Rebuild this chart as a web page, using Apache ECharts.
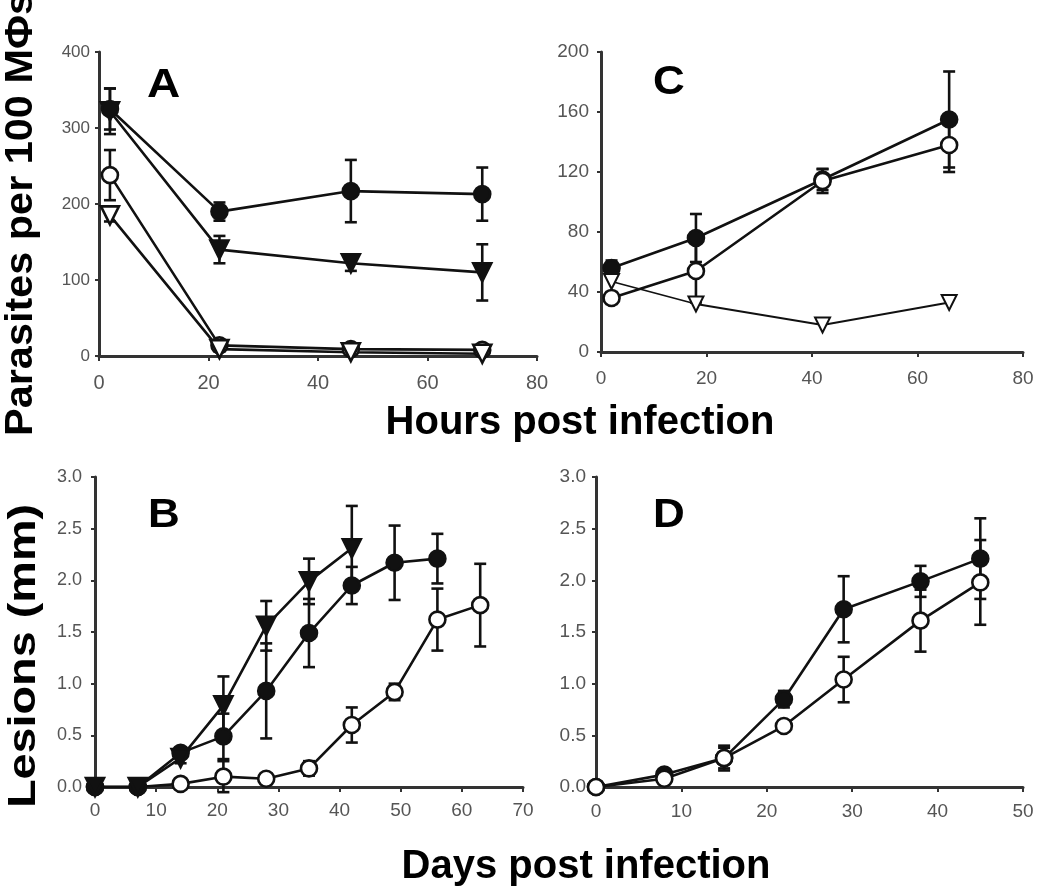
<!DOCTYPE html>
<html>
<head>
<meta charset="utf-8">
<script src="https://cdn.jsdelivr.net/npm/echarts@6/dist/echarts.min.js"></script>
<style>
html,body{margin:0;padding:0;background:#fff;}
#chart{width:1050px;height:896px;}
</style>
</head>
<body>
<div id="chart"></div>
<script>
// ---------- Data ----------
// Panel A: Hours post infection
const hoursA = [2, 22, 46, 70];
const aFilledCircle = [325, 190, 217, 213];
const aFilledCircleErr = [27, 12, 41, 35];
const aFilledTri = [322, 140, 122, 110];
const aFilledTriErr = [30, 18, 10, 37];
const aOpenCircle = [238, 14, 9, 8];
const aOpenCircleErr = [33, 4, 4, 4];
const aOpenTri = [185, 9, 5, 3];
const aOpenTriErr = [8, 3, 2, 2];

// Panel C: Hours post infection
const hoursC = [2, 18, 42, 66];
const cFilledCircle = [56, 76, 115, 155];
const cFilledCircleErr = [5, 16, 7, 32];
const cOpenCircle = [36, 54, 114, 138];
const cOpenCircleErr = [4, 21, 8, 18];
const cOpenTri = [47, 32, 18, 33];

// Panel B: Days post infection
const daysB = [0, 7, 14, 21, 28, 35, 42, 49, 56, 63];
const bFilledCircle = [0, 0, 0.33, 0.49, 0.93, 1.49, 1.95, 2.17, 2.21];
const bFilledCircleErr = [0, 0, 0.05, 0.22, 0.46, 0.33, 0.18, 0.36, 0.24];
const bFilledTri = [0, 0, 0.28, 0.79, 1.56, 1.99, 2.31];
const bFilledTriErr = [0, 0, 0.05, 0.28, 0.24, 0.22, 0.41];
const bOpenCircle = [0, 0, 0.03, 0.1, 0.08, 0.18, 0.6, 0.92, 1.62, 1.76];
const bOpenCircleErr = [0, 0, 0.03, 0.15, 0.03, 0.07, 0.17, 0.08, 0.3, 0.4];

// Panel D: Days post infection
const daysD = [0, 8, 15, 22, 29, 38, 45];
const dFilledCircle = [0, 0.12, 0.28, 0.85, 1.72, 1.99, 2.21];
const dFilledCircleErr = [0, 0.03, 0.12, 0.08, 0.32, 0.15, 0.39];
const dOpenCircle = [0, 0.08, 0.28, 0.59, 1.04, 1.61, 1.98];
const dOpenCircleErr = [0, 0.03, 0.1, 0.05, 0.22, 0.3, 0.41];

// Axis ranges / ticks
const axA = {xMin: 0, xMax: 80, xStep: 20, yMin: 0, yMax: 400, yStep: 100};
const axC = {xMin: 0, xMax: 80, xStep: 20, yMin: 0, yMax: 200, yStep: 40};
const axB = {xMin: 0, xMax: 70, xStep: 10, yMin: 0, yMax: 3, yStep: 0.5};
const axD = {xMin: 0, xMax: 50, xStep: 10, yMin: 0, yMax: 3, yStep: 0.5};

const titleHours = 'Hours post infection';
const titleDays = 'Days post infection';
const titleParasites = 'Parasites per 100 MΦs';
const titleLesions = 'Lesions (mm)';
const panelLetters = ['A', 'C', 'B', 'D'];

// ---------- Chart ----------
const FONT = '"Liberation Sans", Arial, Helvetica, sans-serif';
const AXC = '#333';
const LBL = '#555';

const chart = echarts.init(document.getElementById('chart'), null, {renderer: 'canvas'});

function pairs(xs, ys) { return ys.map((y, i) => [xs[i], y]); }

function xAxisCfg(idx, ax, margin, fs) {
  return {
    type: 'value', gridIndex: idx, min: ax.xMin, max: ax.xMax, interval: ax.xStep,
    axisLine: {show: true, onZero: false, lineStyle: {color: AXC, width: 3}},
    axisTick: {show: true, inside: false, length: 5, lineStyle: {color: AXC, width: 2}},
    splitLine: {show: false},
    axisLabel: {color: LBL, fontFamily: FONT, fontSize: fs, margin: margin}
  };
}
function yAxisCfg(idx, ax, margin, fs, fmt) {
  return {
    type: 'value', gridIndex: idx, min: ax.yMin, max: ax.yMax, interval: ax.yStep,
    axisLine: {show: true, onZero: false, lineStyle: {color: AXC, width: 3}},
    axisTick: {show: true, inside: false, length: 4, lineStyle: {color: AXC, width: 2}},
    splitLine: {show: false},
    axisLabel: {color: LBL, fontFamily: FONT, fontSize: fs, margin: margin, formatter: fmt}
  };
}

function lineSeries(idx, xs, ys, kind, opts) {
  opts = opts || {};
  const filled = kind.indexOf('filled') === 0;
  const tri = kind.indexOf('Tri') > 0;
  return {
    type: 'line', xAxisIndex: idx, yAxisIndex: idx,
    data: pairs(xs, ys),
    symbol: tri ? 'triangle' : 'circle',
    symbolRotate: tri ? 180 : 0,
    symbolSize: opts.size || (tri ? 18 : 16),
    showAllSymbol: true,
    lineStyle: {color: '#111', width: opts.lw || 2.6},
    itemStyle: {color: filled ? '#111' : '#fff', borderColor: '#111', borderWidth: opts.bw || 2.6},
    z: opts.z || 3,
    animation: false, silent: true
  };
}

function errSeries(idx, xs, ys, es) {
  return {
    type: 'custom', xAxisIndex: idx, yAxisIndex: idx,
    data: ys.map((y, i) => [xs[i], y, es[i]]),
    encode: {x: 0, y: 1},
    renderItem: function (params, api) {
      const x = api.value(0), y = api.value(1), e = api.value(2);
      if (!e) return null;
      const t = api.coord([x, y + e]);
      const b = api.coord([x, y - e]);
      const w = 6;
      const st = {stroke: '#111', lineWidth: 2.6};
      return {
        type: 'group',
        children: [
          {type: 'line', shape: {x1: t[0], y1: t[1], x2: b[0], y2: b[1]}, style: st},
          {type: 'line', shape: {x1: t[0] - w, y1: t[1], x2: t[0] + w, y2: t[1]}, style: st},
          {type: 'line', shape: {x1: b[0] - w, y1: b[1], x2: b[0] + w, y2: b[1]}, style: st}
        ]
      };
    },
    z: 2, animation: false, silent: true
  };
}

const fmt1 = v => v.toFixed(1);

const option = {
  backgroundColor: '#fff',
  animation: false,
  grid: [
    {left: 99, top: 52, width: 438, height: 304},   // A
    {left: 601, top: 52, width: 422, height: 300},  // C
    {left: 95, top: 477, width: 428, height: 310},  // B
    {left: 596, top: 477, width: 427, height: 310}  // D
  ],
  xAxis: [
    xAxisCfg(0, axA, 17, 20),
    xAxisCfg(1, axC, 17, 19),
    xAxisCfg(2, axB, 14, 19),
    xAxisCfg(3, axD, 15, 19)
  ],
  yAxis: [
    yAxisCfg(0, axA, 9, 17),
    yAxisCfg(1, axC, 12, 19),
    yAxisCfg(2, axB, 13, 18, fmt1),
    yAxisCfg(3, axD, 10, 19, fmt1)
  ],
  series: [
    // A
    errSeries(0, hoursA, aOpenTri, aOpenTriErr),
    errSeries(0, hoursA, aOpenCircle, aOpenCircleErr),
    errSeries(0, hoursA, aFilledTri, aFilledTriErr),
    errSeries(0, hoursA, aFilledCircle, aFilledCircleErr),
    lineSeries(0, hoursA, aOpenCircle, 'openCircle'),
    lineSeries(0, hoursA, aOpenTri, 'openTri'),
    lineSeries(0, hoursA, aFilledTri, 'filledTri'),
    lineSeries(0, hoursA, aFilledCircle, 'filledCircle'),
    // C
    errSeries(1, hoursC, cOpenCircle, cOpenCircleErr),
    errSeries(1, hoursC, cFilledCircle, cFilledCircleErr),
    lineSeries(1, hoursC, cFilledCircle, 'filledCircle'),
    lineSeries(1, hoursC, cOpenCircle, 'openCircle'),
    lineSeries(1, hoursC, cOpenTri, 'openTri', {size: 15, lw: 1.8, bw: 2, z: 4}),
    // B
    errSeries(2, daysB, bOpenCircle, bOpenCircleErr),
    errSeries(2, daysB.slice(0, bFilledCircle.length), bFilledCircle, bFilledCircleErr),
    errSeries(2, daysB.slice(0, bFilledTri.length), bFilledTri, bFilledTriErr),
    lineSeries(2, daysB, bOpenCircle, 'openCircle'),
    lineSeries(2, daysB, bFilledCircle, 'filledCircle'),
    lineSeries(2, daysB, bFilledTri, 'filledTri'),
    // D
    errSeries(3, daysD, dOpenCircle, dOpenCircleErr),
    errSeries(3, daysD, dFilledCircle, dFilledCircleErr),
    lineSeries(3, daysD, dFilledCircle, 'filledCircle'),
    lineSeries(3, daysD, dOpenCircle, 'openCircle')
  ],
  graphic: [
    {type: 'text', x: 580, y: 423, silent: true,
     style: {text: titleHours, font: 'bold 40px ' + FONT, fill: '#000', textAlign: 'center', textVerticalAlign: 'middle'}},
    {type: 'text', x: 586, y: 867, silent: true,
     style: {text: titleDays, font: 'bold 40px ' + FONT, fill: '#000', textAlign: 'center', textVerticalAlign: 'middle'}},
    {type: 'text', x: 22, y: 214, rotation: Math.PI / 2, scaleX: 1.09, silent: true,
     style: {text: titleParasites, font: 'bold 38px ' + FONT, fill: '#000', textAlign: 'center', textVerticalAlign: 'middle'}},
    {type: 'text', x: 24, y: 656, rotation: Math.PI / 2, scaleX: 1.2, silent: true,
     style: {text: titleLesions, font: 'bold 39px ' + FONT, fill: '#000', textAlign: 'center', textVerticalAlign: 'middle'}},
    {type: 'text', x: 147, y: 86, scaleX: 1.15, silent: true,
     style: {text: panelLetters[0], font: 'bold 40px ' + FONT, fill: '#000', textAlign: 'left', textVerticalAlign: 'middle'}},
    {type: 'text', x: 653, y: 83, scaleX: 1.1, silent: true,
     style: {text: panelLetters[1], font: 'bold 40px ' + FONT, fill: '#000', textAlign: 'left', textVerticalAlign: 'middle'}},
    {type: 'text', x: 148, y: 516, scaleX: 1.1, silent: true,
     style: {text: panelLetters[2], font: 'bold 40px ' + FONT, fill: '#000', textAlign: 'left', textVerticalAlign: 'middle'}},
    {type: 'text', x: 653, y: 516, scaleX: 1.1, silent: true,
     style: {text: panelLetters[3], font: 'bold 40px ' + FONT, fill: '#000', textAlign: 'left', textVerticalAlign: 'middle'}}
  ]
};
chart.setOption(option);
</script>
</body>
</html>
